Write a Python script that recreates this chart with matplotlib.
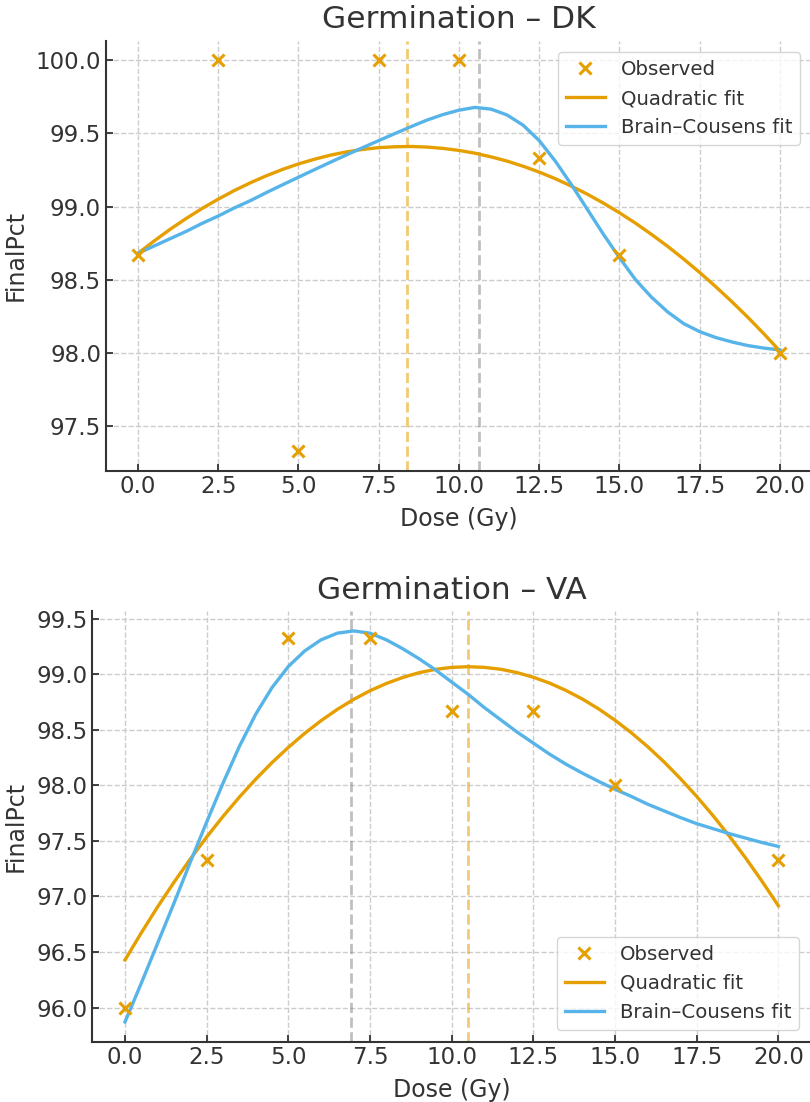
import numpy as np
import matplotlib
matplotlib.use("Agg")
import matplotlib.pyplot as plt

# observed germination (%) per dose
dose = [0, 2.5, 5, 7.5, 10, 12.5, 15, 20]
dk_obs = [98.67, 100.0, 97.33, 100.0, 100.0, 99.33, 98.67, 98.0]
va_obs = [96.0, 97.33, 99.33, 99.33, 98.67, 98.67, 98.0, 97.33]

# fitted curves, read at 0.5 Gy steps
fit_dose = np.arange(0, 20.5, 0.5)
dk_quad = [98.680, 98.764, 98.844, 98.918, 98.987, 99.050, 99.109, 99.162, 99.210, 99.253,
           99.291, 99.323, 99.351, 99.373, 99.390, 99.402, 99.408, 99.410, 99.406, 99.397,
           99.383, 99.364, 99.339, 99.310, 99.275, 99.235, 99.190, 99.139, 99.084, 99.023,
           98.957, 98.886, 98.809, 98.728, 98.641, 98.549, 98.452, 98.350, 98.243, 98.130, 98.012]
va_quad = [96.428, 96.673, 96.907, 97.128, 97.337, 97.535, 97.720, 97.894, 98.055, 98.205,
           98.342, 98.468, 98.582, 98.684, 98.774, 98.852, 98.917, 98.971, 99.014, 99.044,
           99.062, 99.068, 99.062, 99.045, 99.015, 98.973, 98.920, 98.854, 98.777, 98.688,
           98.586, 98.473, 98.348, 98.211, 98.061, 97.900, 97.727, 97.542, 97.345, 97.136, 96.916]
dk_bc = [98.680, 98.730, 98.780, 98.830, 98.885, 98.935, 98.990, 99.040, 99.095, 99.148,
         99.200, 99.252, 99.303, 99.353, 99.402, 99.450, 99.498, 99.545, 99.590, 99.628,
         99.658, 99.677, 99.665, 99.625, 99.555, 99.450, 99.310, 99.150, 98.980, 98.810,
         98.650, 98.500, 98.380, 98.280, 98.200, 98.145, 98.105, 98.075, 98.050, 98.033, 98.020]
va_bc = [95.870, 96.220, 96.580, 96.940, 97.310, 97.670, 98.020, 98.350, 98.640, 98.880,
         99.070, 99.210, 99.310, 99.370, 99.390, 99.370, 99.310, 99.230, 99.140, 99.040,
         98.930, 98.820, 98.700, 98.590, 98.480, 98.380, 98.280, 98.190, 98.110, 98.035,
         97.965, 97.900, 97.830, 97.770, 97.710, 97.655, 97.610, 97.565, 97.525, 97.485, 97.450]

# optimum dose markers (quadratic, Brain-Cousens)
dk_opt = (8.39, 10.62)
va_opt = (10.51, 6.93)

ORANGE = "#E69F00"
BLUE = "#56B4E9"
TXT = "#333333"

plt.rcParams.update({
    "font.family": "DejaVu Sans",
    "text.color": TXT,
    "axes.labelcolor": TXT,
    "xtick.color": TXT,
    "ytick.color": TXT,
    "xtick.direction": "in",
    "ytick.direction": "in",
})

fig = plt.figure(figsize=(8.1, 11.02), dpi=100)
ax1 = fig.add_axes([0.1307, 0.573, 0.8719, 0.3902])
ax2 = fig.add_axes([0.1140, 0.0549, 0.8873, 0.3903])


def draw(ax, obs, quad, bc, opt, title, legend_loc):
    ax.plot(dose, obs, "x", color=ORANGE, markersize=8.5, markeredgewidth=2.2,
            label="Observed", zorder=4)
    ax.plot(fit_dose, quad, color=ORANGE, lw=2.4, solid_joinstyle="round",
            label="Quadratic fit", zorder=3)
    ax.plot(fit_dose, bc, color=BLUE, lw=2.4, solid_joinstyle="round",
            label="Brain\u2013Cousens fit", zorder=3)
    ax.axvline(opt[0], color=ORANGE, ls="--", lw=2, alpha=0.55, zorder=2)
    ax.axvline(opt[1], color="gray", ls="--", lw=2, alpha=0.5, zorder=2)
    ax.set_xlim(-1, 21)
    ax.set_xticks(np.arange(0, 20.1, 2.5))
    ax.xaxis.set_major_formatter(matplotlib.ticker.FormatStrFormatter("%.1f"))
    ax.yaxis.set_major_formatter(matplotlib.ticker.FormatStrFormatter("%.1f"))
    ax.grid(True, ls="--", color="#cccccc", lw=1)
    ax.set_axisbelow(True)
    for s in ["top", "right"]:
        ax.spines[s].set_visible(False)
    for s in ["left", "bottom"]:
        ax.spines[s].set_color(TXT)
        ax.spines[s].set_linewidth(1.5)
    ax.tick_params(labelsize=16.5, length=5, width=1.3)
    ax.set_title(title, fontsize=22.5, pad=9)
    ax.set_xlabel("Dose (Gy)", fontsize=17, labelpad=6)
    ax.set_ylabel("FinalPct", fontsize=17, labelpad=6)
    leg = ax.legend(loc=legend_loc, fontsize=14.2, frameon=True, borderaxespad=0.6)
    leg.get_frame().set_edgecolor("#cccccc")


draw(ax1, dk_obs, dk_quad, dk_bc, dk_opt, "Germination \u2013 DK", "upper right")
draw(ax2, va_obs, va_quad, va_bc, va_opt, "Germination \u2013 VA", "lower right")

fig.savefig("out.png", dpi=100)
